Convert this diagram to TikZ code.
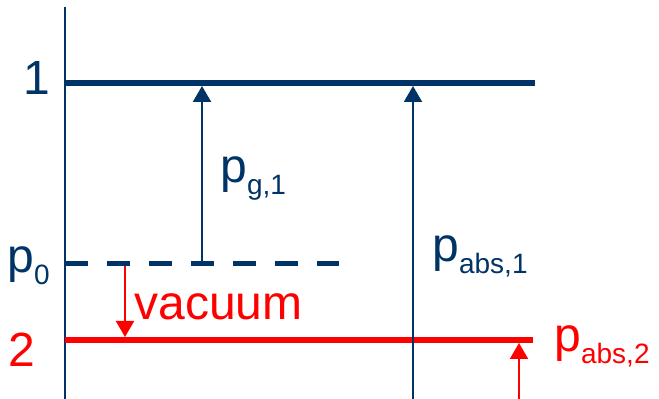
\documentclass[tikz,border=0pt]{standalone}
\usepackage{fontspec}
\setmainfont{Liberation Sans}
\usepackage{xcolor}
\usetikzlibrary{arrows.meta}
\definecolor{navy}{RGB}{0,51,102}
\definecolor{vacred}{RGB}{255,0,0}
\newcommand{\lowsub}[1]{\raisebox{-6pt}{\fontsize{14}{14}\selectfont #1}}

\begin{document}
\begin{tikzpicture}[
        x=0.5pt, y=-0.5pt,
        font=\fontsize{24}{24}\selectfont,
        lbl/.style={anchor=base west, inner sep=0pt},
        level/.style={line width=3pt},
        arr/.style={line width=1pt, -{Triangle[width=9pt,length=8pt]}},
      ]
        \useasboundingbox (0,0) rectangle (659,399);
        % axis and levels
        \coordinate (axtop) at (65,7);
        \coordinate (axbot) at (65,399);
        \coordinate (onea) at (65,83);
        \coordinate (oneb) at (535,83);
        \coordinate (zeroa) at (65,264);
        \coordinate (zerob) at (339,264);
        \coordinate (twoa) at (65,340);
        \coordinate (twob) at (533,340);
        \draw[navy, line width=1.2pt] (axtop) -- (axbot);
        \draw[navy, level] (onea) -- (oneb);
        \draw[navy, line width=2.5pt, dash pattern=on 11.5pt off 9.5pt] (zeroa) -- (zerob);
        \draw[vacred, level] (twoa) -- (twob);
        % arrows
        \coordinate (g1s) at (202,265);
        \coordinate (g1e) at (202,86);
        \coordinate (a1s) at (413,399);
        \coordinate (a1e) at (413,86);
        \coordinate (vs) at (125,266);
        \coordinate (ve) at (125,337);
        \coordinate (a2s) at (519,399);
        \coordinate (a2e) at (519,343);
        \draw[navy, arr] (g1s) -- (g1e);
        \draw[navy, arr] (a1s) -- (a1e);
        \draw[vacred, arr] (vs) -- (ve);
        \draw[vacred, arr] (a2s) -- (a2e);
        % labels
        \node[lbl, navy] (one) at (23,95) {1};
        \node[lbl, navy] (pzero) at (7,273) {p\lowsub{0}};
        \node[lbl, vacred] (two) at (8,367) {2};
        \node[lbl, navy] (pg) at (220,183) {p\lowsub{g,1}};
        \node[lbl, navy] (pabsone) at (432,262) {p\lowsub{abs,1}};
        \node[lbl, vacred] (vac) at (134,320) {vacuum};
        \node[lbl, vacred] (pabstwo) at (554,352) {p\lowsub{abs,2}};
      \end{tikzpicture}
\end{document}
